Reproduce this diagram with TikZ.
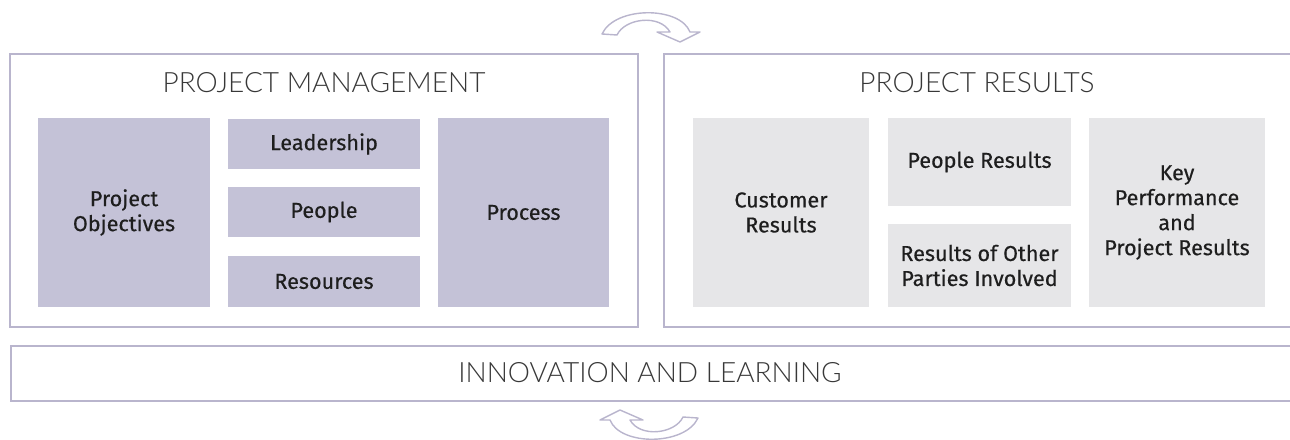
\documentclass[tikz,border=0pt]{standalone}
\usepackage{fontspec}
\setmainfont{Fira Sans}[UprightFeatures={FakeBold=0.4}]
\newfontfamily\titlefont{Lato Light}
\definecolor{frameline}{HTML}{B9B5CD}
\definecolor{mgmtfill}{HTML}{C4C2D7}
\definecolor{resfill}{HTML}{E6E6E8}
\definecolor{boxtext}{HTML}{1E1E1E}
\definecolor{titletext}{HTML}{383838}
\tikzset{
  turnarrow/.pic={
    \draw[draw=frameline, fill=white, line width=0.7pt, line join=round]
      (-48,7) -- (-33,8) .. controls (-25,-9) and (10,-13) .. (20,5)
      -- (7,5) -- (30,15) -- (50,5) -- (40,5)
      .. controls (30,-21) and (-35,-21) .. (-48,7) -- cycle;
  }
}
\begin{document}
\begin{tikzpicture}[x=0.5pt,y=-0.5pt] % pixel grid of the reference
    \tikzstyle{frame}=[draw=frameline, line width=1pt]
    \tikzstyle{title}=[text=titletext, font=\titlefont\fontsize{14}{16}\selectfont, inner sep=0pt]
    \tikzstyle{mbox}=[fill=mgmtfill, text=boxtext, align=center, inner sep=0pt, font=\fontsize{10.8}{12.5}\selectfont]
    \tikzstyle{rbox}=[mbox, fill=resfill]
    \useasboundingbox (0,0) rectangle (1290,439);
    % frames
    \node[frame, minimum width=314pt, minimum height=136.5pt, inner sep=0pt] (mgmt) at (324,190.5) {};
    \draw[frame] (1295,54) -- (664,54) -- (664,327) -- (1295,327);
    \draw[frame] (1295,346) -- (11,346) -- (11,401) -- (1295,401);
    % titles
    \node[title] (mgmttitle) at (324,83) {PROJECT MANAGEMENT};
    \node[title] (restitle) at (977,83) {PROJECT RESULTS};
    \node[title] (innotitle) at (650,373) {INNOVATION AND LEARNING};
    % enablers
    \node[mbox, minimum width=86pt, minimum height=94.5pt] (objectives) at (124,212.5) {Project\\Objectives};
    \node[mbox, minimum width=96pt, minimum height=25pt] (leadership) at (324,144) {Leadership};
    \node[mbox, minimum width=96pt, minimum height=25pt] (people) at (324,212) {People};
    \node[mbox, minimum width=96pt, minimum height=25.5pt] (resources) at (324,281.5) {Resources};
    \node[mbox, minimum width=85.5pt, minimum height=94.5pt] (process) at (523.5,212.5) {Process};
    % results
    \node[rbox, minimum width=88pt, minimum height=94.5pt] (customer) at (781,212.5) {Customer\\Results};
    \node[rbox, minimum width=91.5pt, minimum height=44pt] (peopleres) at (979.5,162) {People Results};
    \node[rbox, minimum width=91.5pt, minimum height=41.5pt] (others) at (979.5,265.5) {Results of Other\\Parties Involved};
    \node[rbox, minimum width=88pt, minimum height=94.5pt] (keyperf) at (1177,212.5) {Key\\Performance\\and\\Project Results};
    % cycle arrows
    \pic at (650,27) {turnarrow};
    \pic[rotate=180] at (650,425) {turnarrow};
\end{tikzpicture}
\end{document}
